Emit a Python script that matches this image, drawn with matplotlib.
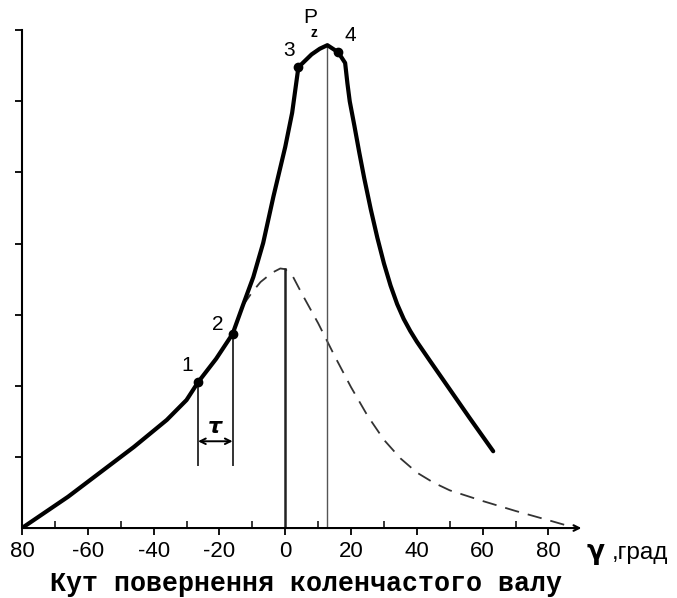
import matplotlib.pyplot as plt

# Тиск у циліндрі з запалюванням (суцільна лінія), кут у градусах
gamma_p = [-80, -66, -56, -46, -36, -30, -26.5, -21, -16, -12.8, -9.7, -6.7, -3.6,
           0, 2.1, 4.0, 6.0, 8.0, 10.5, 12.8, 16.1, 18.2, 18.9, 19.6, 21.0, 22.5,
           24.0, 26.0, 28.0, 30.0, 32.0, 34.0, 36.0, 38.0, 40.0, 44.0, 50.0, 56.0, 63.2]
p_fire = [0, 0.44, 0.79, 1.14, 1.52, 1.80, 2.05, 2.38, 2.73, 3.14, 3.53, 4.01, 4.66,
          5.36, 5.84, 6.48, 6.57, 6.66, 6.74, 6.79, 6.69, 6.54, 6.25, 6.00, 5.66, 5.28,
          4.92, 4.48, 4.08, 3.72, 3.41, 3.15, 2.94, 2.77, 2.62, 2.35, 1.95, 1.55, 1.08]

# Тиск стиснення без запалювання (штрихова лінія)
gamma_c = [-13, -10, -7.5, -4, -1.5, 0, 2.4, 5, 10, 15, 20, 25, 30,
           35, 40, 45, 50, 60, 70, 80, 87.5]
p_comp = [3.12, 3.32, 3.46, 3.59, 3.65, 3.64, 3.53, 3.30, 2.88, 2.42, 1.98, 1.58, 1.24,
          0.98, 0.78, 0.64, 0.53, 0.38, 0.24, 0.11, 0.01]

# Характерні точки 1-4 та максимум Pz
pt_x = [-26.5, -16, 4.0, 16.1]
pt_y = [2.05, 2.73, 6.48, 6.69]
pt_names = ['1', '2', '3', '4']
pz_x, pz_y = 12.8, 6.79
p0_y = 3.64

xticks = [-80, -60, -40, -20, 0, 20, 40, 60, 80]
xlabels = ['80', '-60', '-40', '-20', '0', '20', '40', '60', '80']

fig = plt.figure(figsize=(6.77, 5.98), dpi=100)
ax = fig.add_axes([0.0325, 0.117, 0.836, 0.880])
ax.set_xlim(-80, 92)
ax.set_ylim(0, 7.4)

# криві тиску
ax.plot(gamma_p, p_fire, color='black', lw=3, solid_capstyle='round',
        solid_joinstyle='round', zorder=3)
ax.plot(gamma_c, p_comp, color='#333333', lw=1.3, dashes=(8, 5), zorder=2)
ax.plot(pt_x, pt_y, 'o', color='black', ms=6, zorder=4)

# вертикалі
ax.plot([0, 0], [0, p0_y], color='#222222', lw=1.8)
ax.plot([pz_x, pz_x], [0, pz_y], color='#555555', lw=1.0)
ax.plot([pt_x[0], pt_x[0]], [0.89, pt_y[0]], color='#333333', lw=1.4)
ax.plot([pt_x[1], pt_x[1]], [0.89, pt_y[1]], color='#333333', lw=1.4)
ax.annotate('', xy=(pt_x[0], 1.22), xytext=(pt_x[1], 1.22),
            arrowprops=dict(arrowstyle='<->', color='black', lw=1.4,
                            shrinkA=0, shrinkB=0))
ax.text(-21.5, 1.28, 'τ', fontsize=16, fontweight='bold', fontstyle='italic',
        ha='center', va='bottom', family='DejaVu Sans')

# підписи точок
lab = dict(fontsize=15, family='Liberation Sans', ha='center', va='center')
for name, x, y in zip(pt_names, [-29.8, -20.6, 1.2, 19.7], [2.29, 2.86, 6.72, 6.92]):
    ax.text(x, y, name, **lab)
ax.text(7.6, 7.05, 'P', fontsize=15, family='Liberation Sans', ha='center', va='bottom')
ax.text(8.6, 6.86, 'z', fontsize=10, fontweight='bold', family='Liberation Sans',
        ha='center', va='bottom')

# осі
for side in ['top', 'right', 'bottom']:
    ax.spines[side].set_visible(False)
ax.spines['left'].set_bounds(0, 7)
ax.spines['left'].set_linewidth(1.5)
ax.annotate('', xy=(90, 0), xytext=(-80, 0),
            arrowprops=dict(arrowstyle='->', color='black', lw=1.5,
                            shrinkA=0, shrinkB=0), annotation_clip=False)

ax.set_yticks(range(1, 8))
ax.set_yticklabels([])
ax.tick_params(axis='y', direction='out', length=5, width=1.3)
ax.set_xticks(xticks)
ax.set_xticklabels(xlabels, fontsize=16, family='Liberation Sans')
ax.set_xticks([-70, -50, -30, -10, 10, 30, 50, 70], minor=True)
ax.tick_params(axis='x', which='major', direction='out', length=5, width=1.3, pad=4)
ax.tick_params(axis='x', which='minor', direction='in', length=5, width=1.1)

fig.text(0.866, 0.066, 'γ', fontsize=19, fontweight='bold', ha='left', va='baseline',
         family='DejaVu Sans')
fig.text(0.903, 0.066, ',град', fontsize=17.5, family='Liberation Sans',
         ha='left', va='baseline')
fig.text(0.452, 0.012, 'Кут повернення коленчастого валу', fontsize=19.2,
         fontweight='bold', family='Liberation Mono', ha='center', va='baseline')

fig.savefig('out.png', dpi=100)
